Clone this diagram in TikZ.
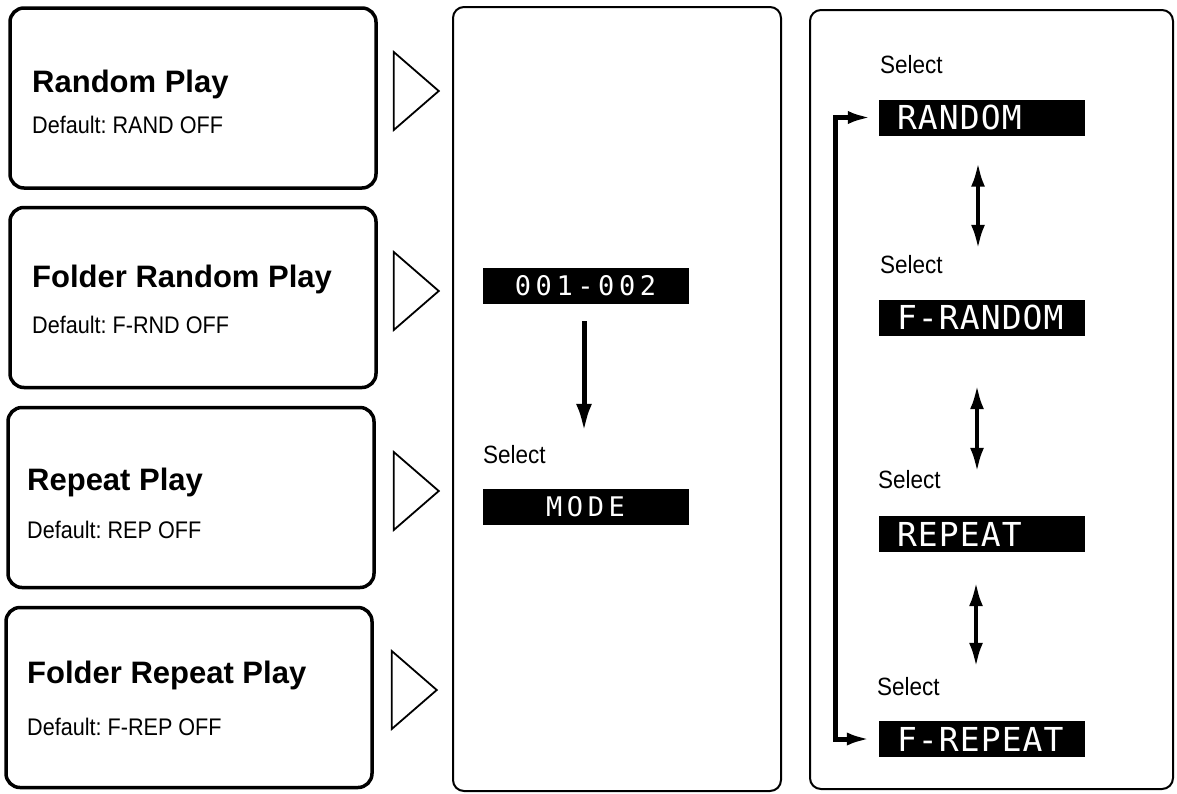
\documentclass[tikz,border=0pt]{standalone}
\usepackage{fontspec}
\setmainfont{Liberation Sans}
\newfontfamily\deffont[FakeStretch=0.9]{Liberation Sans}
\newfontfamily\lcdfont[LetterSpace=3.3]{DejaVu Sans Mono}
\newfontfamily\lcdfontm[LetterSpace=17]{DejaVu Sans Mono}
\usetikzlibrary{arrows.meta,calc}
\begin{document}
\frenchspacing
\begin{tikzpicture}[x=1pt,y=-1pt,
 lbox/.style={draw, line width=3.5pt, rounded corners=14pt, minimum width=366pt, minimum height=180pt, inner sep=0pt},
 panel/.style={draw, line width=2pt, rounded corners=11pt},
 ttl/.style={anchor=base west, inner sep=0pt, font=\bfseries\fontsize{31}{36}\selectfont},
 dft/.style={anchor=base west, inner sep=0pt, font=\deffont\fontsize{24}{28}\selectfont},
 sel/.style={anchor=base west, inner sep=0pt, font=\deffont\fontsize{25}{28}\selectfont},
 tri/.style={draw, line width=1.8pt, line join=miter},
 lcdbar/.style={fill=black, text=white, minimum width=206pt, minimum height=36pt, inner sep=0pt},
 rbar/.style={lcdbar, text width=170pt, inner xsep=18pt, align=left, font=\lcdfont\fontsize{33}{36}\selectfont},
 mbar/.style={lcdbar, align=center, font=\lcdfontm\fontsize{27}{30}\selectfont},
 marr/.style={line width=5pt, -{Latex[length=28pt,width=16pt]}},
 dbl/.style={line width=4pt, {Latex[length=24pt,width=14pt]}-{Latex[length=24pt,width=14pt]}},
 looparr/.style={line width=5pt, line join=miter, {Latex[length=24pt,width=13pt]}-{Latex[length=24pt,width=13pt]}}
]
\useasboundingbox[fill=white] (0,0) rectangle (1177,793);

% left boxes
\node[lbox] (b1) at (193,98) {};
\node[lbox] (b2) at (193,297.5) {};
\node[lbox] (b3) at (191,497.5) {};
\node[lbox] (b4) at (189,697.5) {};

\node[ttl] (t1) at (32,92) {Random Play};
\node[dft] (d1) at (32,133) {Default: RAND OFF};
\node[ttl] (t2) at (32,287) {Folder Random Play};
\node[dft] (d2) at (32,333) {Default: F-RND OFF};
\node[ttl] (t3) at (27,490) {Repeat Play};
\node[dft] (d3) at (27,538) {Default: REP OFF};
\node[ttl] (t4) at (27,683) {Folder Repeat Play};
\node[dft] (d4) at (27,735) {Default: F-REP OFF};

% triangles
\draw[tri] ([shift={(16pt,46pt)}]b1.east) -- ++(45,39) -- ++(-45,39) -- cycle;
\draw[tri] ([shift={(16pt,45.5pt)}]b2.east) -- ++(45,39) -- ++(-45,39) -- cycle;
\draw[tri] ([shift={(18pt,45.5pt)}]b3.east) -- ++(45,39) -- ++(-45,39) -- cycle;
\draw[tri] ([shift={(18pt,46.5pt)}]b4.east) -- ++(45,39) -- ++(-45,39) -- cycle;

% panels
\draw[panel] (453,7) rectangle (781,791);
\draw[panel] (810,10) rectangle (1173,789);

% middle panel
\node[mbar] (b001) at (585.5,286) {001-002};
\node[sel] (s0) at (483,463) {Select};
\node[mbar] (bmode) at (585.5,507) {MODE};
\draw[marr, shorten <=17pt, shorten >=57pt] ([xshift=-1.5pt]b001.south) -- ([xshift=-1.5pt]bmode.north);

% right panel
\node[sel] (s1) at (880,73) {Select};
\node[rbar] (brandom) at (982,117.5) {RANDOM};
\node[sel] (s2) at (880,273) {Select};
\node[rbar] (bfrandom) at (982,317.5) {F-RANDOM};
\node[sel] (s3) at (878,488) {Select};
\node[rbar] (brepeat) at (982,534) {REPEAT};
\node[sel] (s4) at (877,695) {Select};
\node[rbar] (bfrepeat) at (982,739) {F-REPEAT};

\draw[dbl, shorten <=27pt, shorten >=50.5pt] ([xshift=-4pt]brandom.south) -- ([xshift=-4pt]bfrandom.north);
\draw[dbl, shorten <=49.5pt, shorten >=44pt] ([xshift=-5pt]bfrandom.south) -- ([xshift=-5pt]brepeat.north);
\draw[dbl, shorten <=30pt, shorten >=54pt] ([xshift=-6pt]brepeat.south) -- ([xshift=-6pt]bfrepeat.north);

\coordinate (lt) at ([xshift=-43pt]brandom.west);
\coordinate (lb) at ([xshift=-43pt]bfrepeat.west);
\draw[looparr] ([xshift=-7pt]brandom.west) -- (lt) -- (lb) -- ([xshift=-8pt]bfrepeat.west);
\end{tikzpicture}
\end{document}
